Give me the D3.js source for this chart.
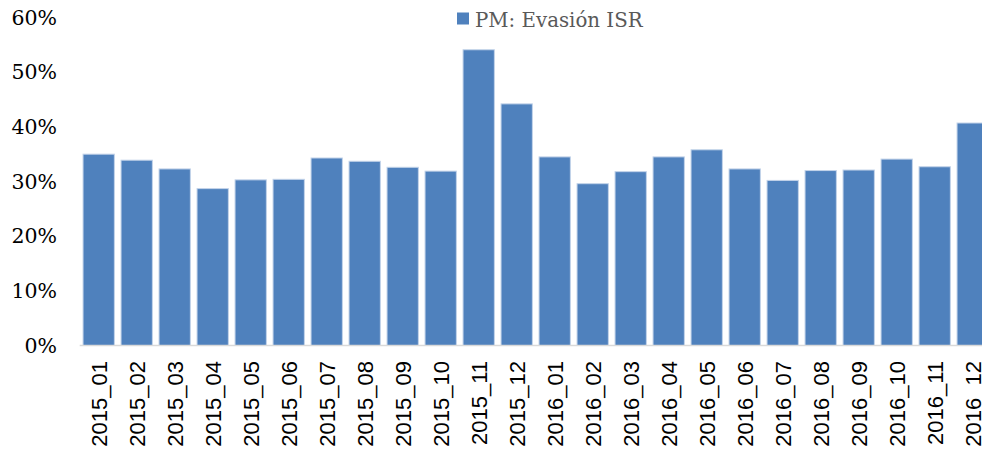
<!DOCTYPE html>
<html>
<head>
<meta charset="utf-8">
<script src="https://cdn.jsdelivr.net/npm/d3@7"></script>
<style>
  html, body { margin: 0; padding: 0; background: #ffffff; }
  svg { display: block; }
</style>
</head>
<body>
<svg id="chart" width="982" height="452"></svg>
<script>
const categories = ["2015_01","2015_02","2015_03","2015_04","2015_05","2015_06","2015_07","2015_08","2015_09","2015_10","2015_11","2015_12",
                    "2016_01","2016_02","2016_03","2016_04","2016_05","2016_06","2016_07","2016_08","2016_09","2016_10","2016_11","2016_12"];
const seriesName = "PM: Evasión ISR";
const values = [0.350, 0.339, 0.323, 0.287, 0.303, 0.304, 0.343, 0.337, 0.326, 0.319, 0.541, 0.442,
                0.345, 0.296, 0.318, 0.345, 0.358, 0.323, 0.302, 0.320, 0.321, 0.341, 0.327, 0.407];
const yTicks = [0, 0.1, 0.2, 0.3, 0.4, 0.5, 0.6];

const svg = d3.select("#chart");
const plotLeft = 79.7, plotRight = 991.7, plotTop = 17.5, plotBottom = 345.5;

const x = d3.scaleBand().domain(categories).range([plotLeft, plotRight]).paddingInner(0.176).paddingOuter(0.088);
const y = d3.scaleLinear().domain([0, 0.6]).range([plotBottom, plotTop]);

// bars
svg.append("g").selectAll("rect").data(values).join("rect")
  .attr("x", (d, i) => x(categories[i]))
  .attr("y", d => y(d))
  .attr("width", x.bandwidth())
  .attr("height", d => y(0) - y(d))
  .attr("fill", "#4f81bd")
  .attr("stroke", "#c3d3e9")
  .attr("stroke-width", 1);

// x axis line
svg.append("line")
  .attr("x1", plotLeft).attr("x2", 982)
  .attr("y1", y(0)).attr("y2", y(0))
  .attr("stroke", "#d9d9d9").attr("stroke-width", 1.5);

// y tick labels
const yAxis = d3.axisLeft(y).tickValues(yTicks).tickFormat(d3.format(".0%")).tickSize(0).tickPadding(0);
const gy = svg.append("g").attr("transform", "translate(57,0)").call(yAxis);
gy.select(".domain").remove();
gy.selectAll("text")
  .attr("font-family", "'DejaVu Serif', serif")
  .attr("font-size", 20.5)
  .attr("fill", "#000000");

// x labels
const xAxis = d3.axisBottom(x).tickSize(0).tickPadding(0);
const gx = svg.append("g").attr("transform", "translate(0,361)").call(xAxis);
gx.select(".domain").remove();
gx.selectAll("text")
  .attr("font-family", "'Liberation Sans', Arial, sans-serif")
  .attr("font-size", 22)
  .attr("fill", "#000000")
  .attr("text-anchor", "end")
  .attr("transform", "rotate(-90)")
  .attr("x", 0)
  .attr("y", 0)
  .attr("dy", "0.36em");

// legend
const lg = svg.append("g");
lg.append("rect").attr("x", 457).attr("y", 12.5).attr("width", 12).attr("height", 12).attr("fill", "#4f81bd");
lg.append("text").attr("x", 475).attr("y", 27)
  .attr("font-family", "'DejaVu Serif', serif")
  .attr("font-size", 19.8)
  .attr("fill", "#595959")
  .text(seriesName);
</script>
</body>
</html>
